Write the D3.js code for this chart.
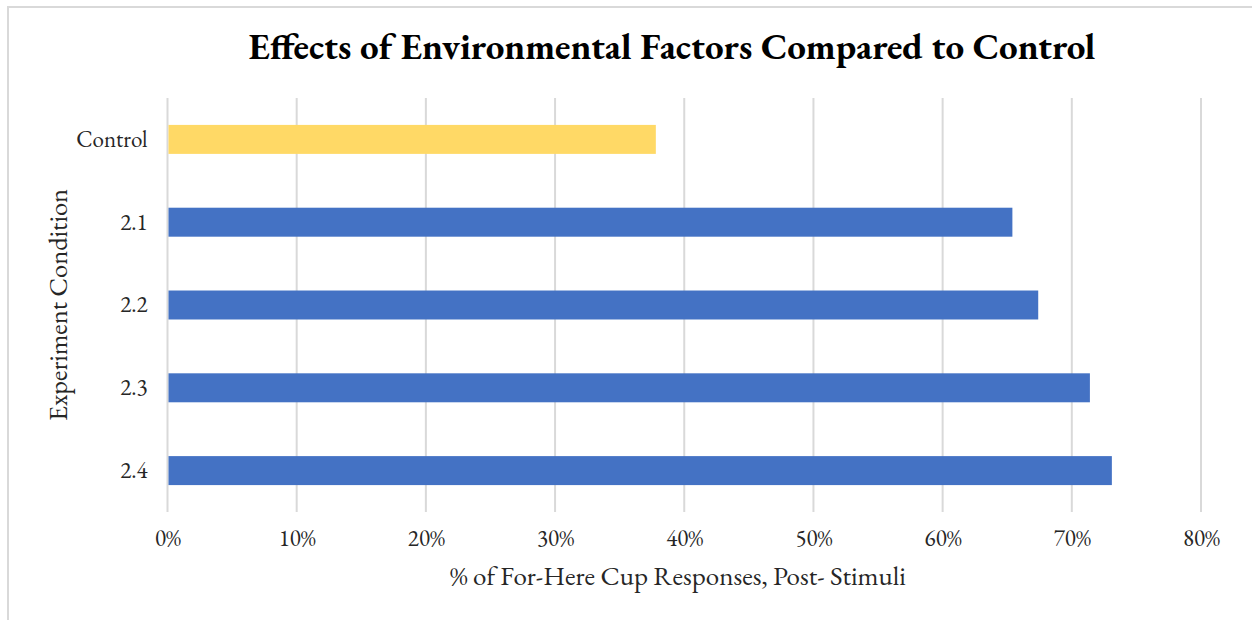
<!DOCTYPE html>
<html>
<head>
<meta charset="utf-8">
<script src="https://cdn.jsdelivr.net/npm/d3@7"></script>
<style>
  body { margin: 0; background: #fff; }
  text { font-family: "EB Garamond", Garamond, "Liberation Serif", "DejaVu Serif", serif; }
</style>
</head>
<body>
<script>
// chart data
const categories = ['Control', '2.1', '2.2', '2.3', '2.4'];
const values = [0.378, 0.654, 0.674, 0.714, 0.731];
const barColors = ['#FFD966', '#4472C4', '#4472C4', '#4472C4', '#4472C4'];
const xTicks = [0, 0.1, 0.2, 0.3, 0.4, 0.5, 0.6, 0.7, 0.8];

const W = 1252, H = 620;
const margin = { top: 98, right: 51, bottom: 108, left: 167.5 };

const svg = d3.select('body').append('svg')
  .attr('width', W)
  .attr('height', H);

// outer chart frame (cut off at right / bottom like the original)
svg.append('rect')
  .attr('x', 8).attr('y', 7)
  .attr('width', 1260).attr('height', 640)
  .attr('fill', 'none')
  .attr('stroke', '#D9D9D9')
  .attr('stroke-width', 2);

const x = d3.scaleLinear()
  .domain([0, 0.8])
  .range([margin.left, W - margin.right]);

const y = d3.scaleBand()
  .domain(categories)
  .range([margin.top, H - margin.bottom])
  .paddingInner(0.65)
  .paddingOuter(0.325);

// gridlines
svg.append('g')
  .selectAll('line')
  .data(xTicks)
  .join('line')
  .attr('x1', d => x(d)).attr('x2', d => x(d))
  .attr('y1', margin.top).attr('y2', H - margin.bottom)
  .attr('stroke', '#D9D9D9')
  .attr('stroke-width', 2);

// bars
svg.append('g')
  .selectAll('rect')
  .data(categories)
  .join('rect')
  .attr('x', x(0) + 1)
  .attr('y', d => y(d))
  .attr('width', (d, i) => x(values[i]) - x(0) - 1)
  .attr('height', y.bandwidth())
  .attr('fill', (d, i) => barColors[i]);

// x axis tick labels
const xAxis = d3.axisBottom(x)
  .tickValues(xTicks)
  .tickFormat(d3.format('.0%'))
  .tickSize(0)
  .tickPadding(18);

const gx = svg.append('g')
  .attr('transform', 'translate(0,' + (H - margin.bottom) + ')')
  .call(xAxis);
gx.select('.domain').remove();
gx.selectAll('text')
  .attr('font-size', 23)
  .attr('fill', '#262626')
  .style('font-family', null);

// y axis labels
const yAxis = d3.axisLeft(y).tickSize(0).tickPadding(20);
const gy = svg.append('g')
  .attr('transform', 'translate(' + margin.left + ',0)')
  .call(yAxis);
gy.select('.domain').remove();
gy.selectAll('text')
  .attr('font-size', 23)
  .attr('fill', '#262626')
  .style('font-family', null);

// title
svg.append('text')
  .attr('x', 672)
  .attr('y', 59)
  .attr('text-anchor', 'middle')
  .attr('font-size', 37)
  .attr('font-weight', 'bold')
  .attr('fill', '#000')
  .text('Effects of Environmental Factors Compared to Control');

// axis titles
svg.append('text')
  .attr('x', 678)
  .attr('y', 585)
  .attr('text-anchor', 'middle')
  .attr('font-size', 27)
  .attr('fill', '#262626')
  .text('% of For-Here Cup Responses, Post- Stimuli');

svg.append('text')
  .attr('transform', 'translate(67,305) rotate(-90)')
  .attr('text-anchor', 'middle')
  .attr('font-size', 26.5)
  .attr('fill', '#262626')
  .text('Experiment Condition');
</script>
</body>
</html>
